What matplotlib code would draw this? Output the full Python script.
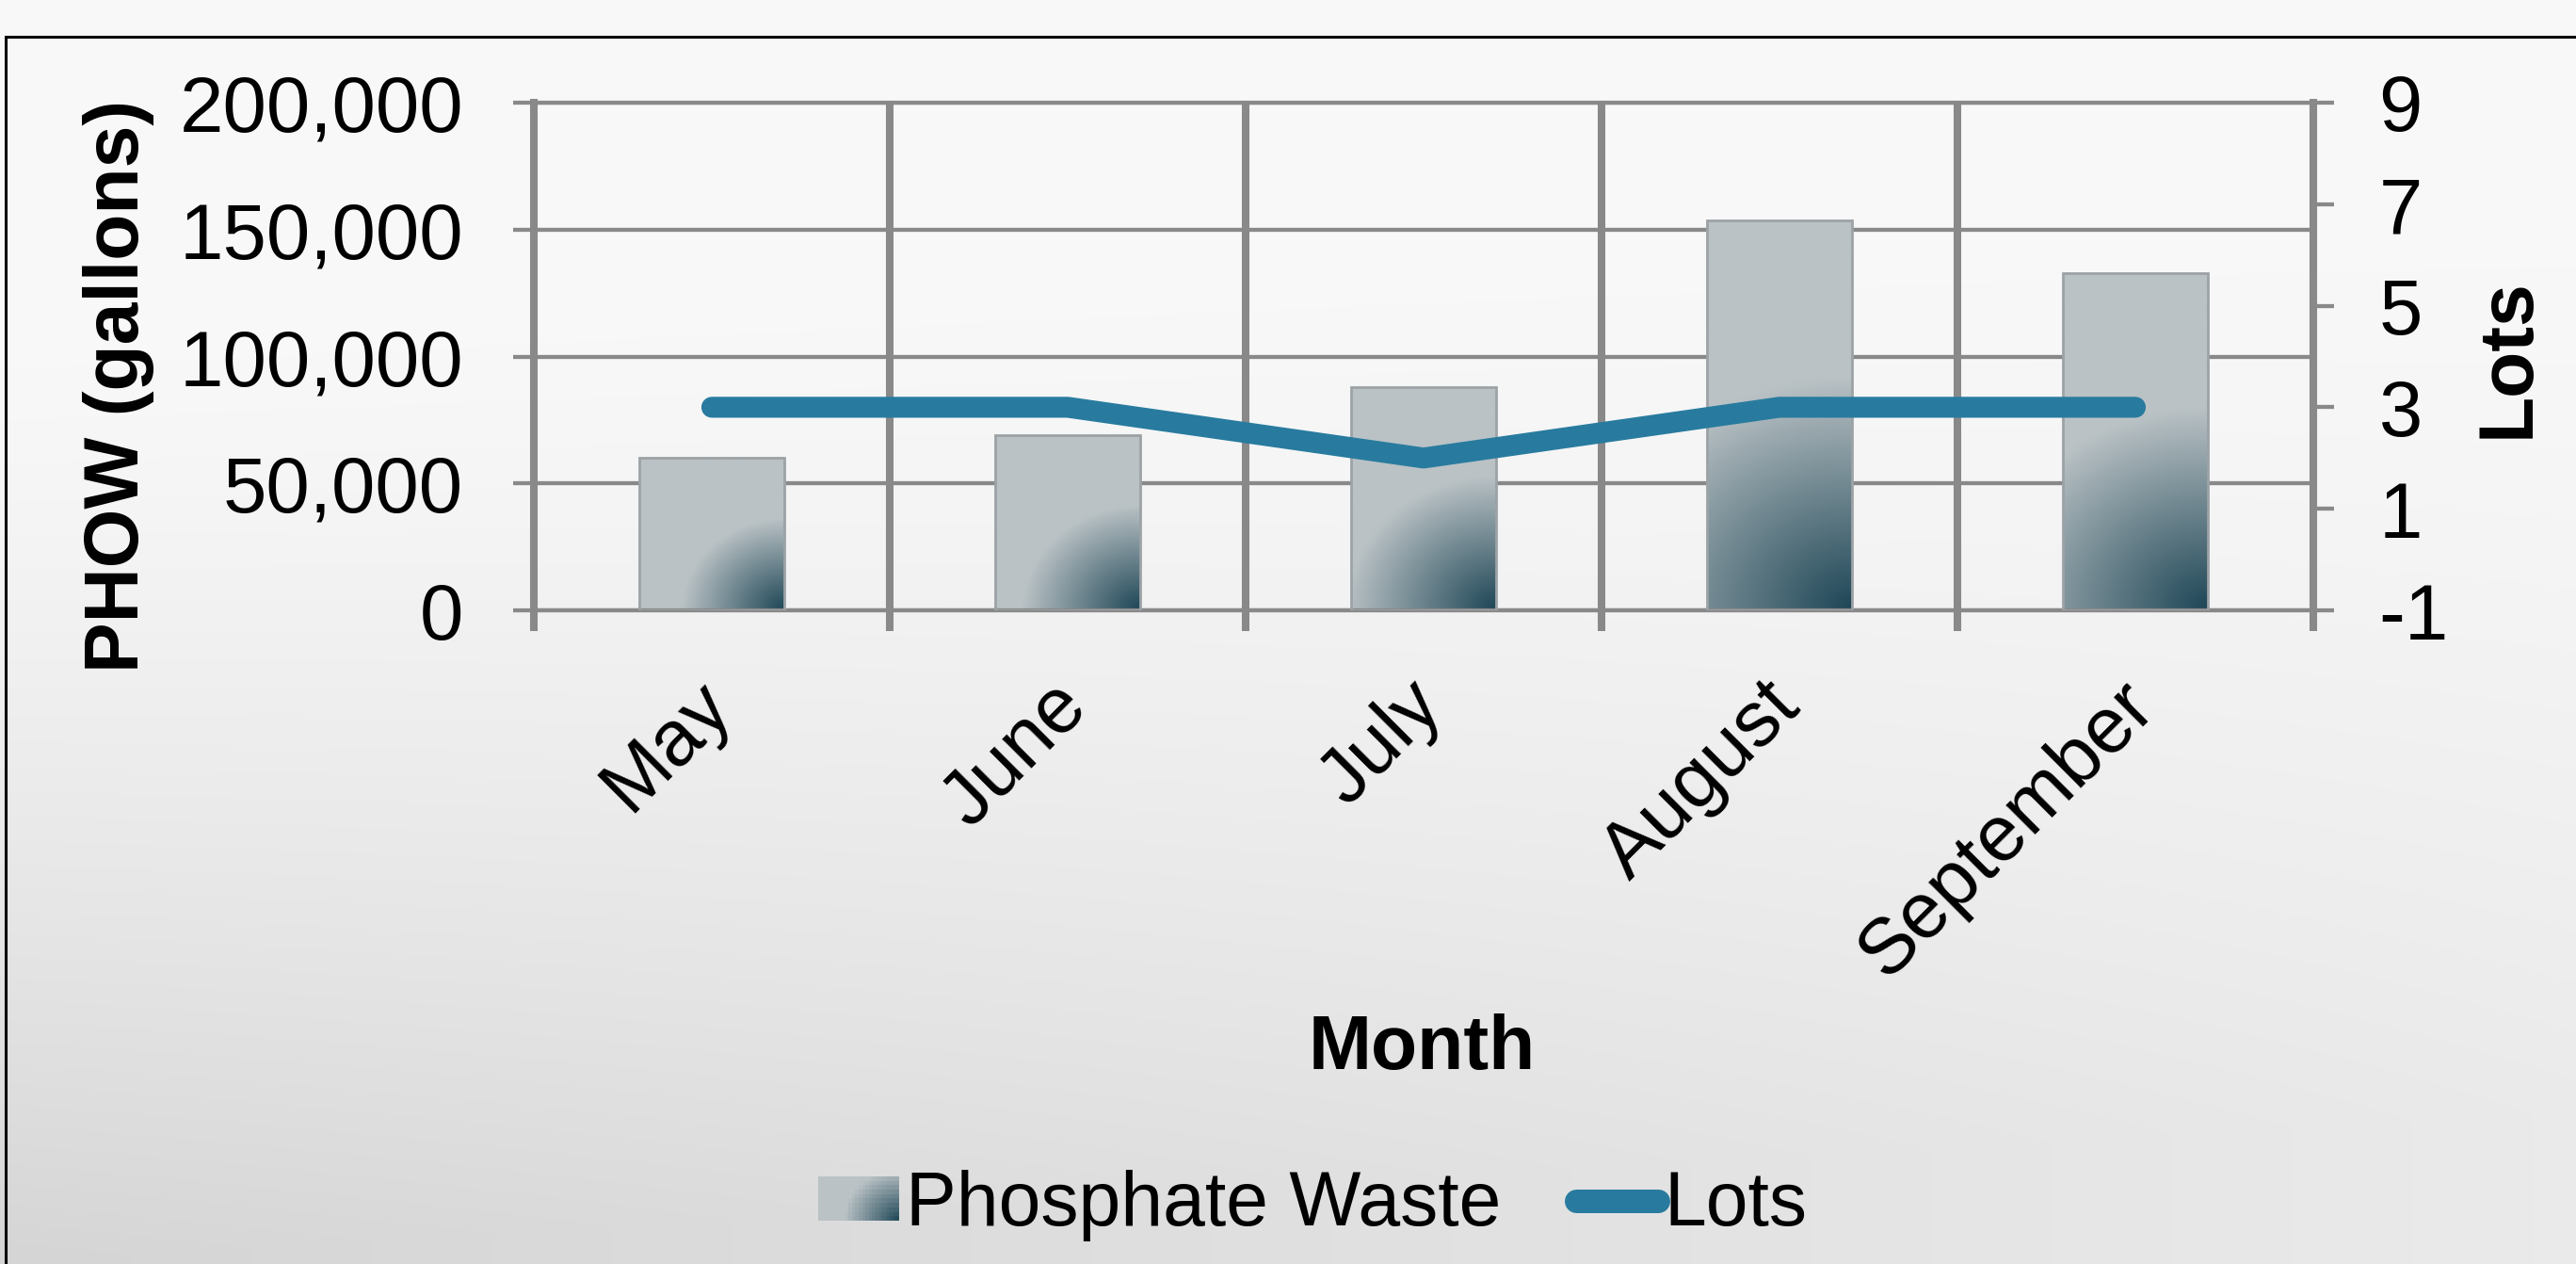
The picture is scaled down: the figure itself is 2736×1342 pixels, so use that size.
"""Phosphate waste volume vs. lots per month (bar + line, twin y axes)."""
import numpy as np
import matplotlib.pyplot as plt
from matplotlib.patches import Rectangle
from matplotlib.lines import Line2D
from matplotlib.legend_handler import HandlerBase
from matplotlib.ticker import FuncFormatter
from matplotlib.transforms import ScaledTranslation


months = ["May", "June", "July", "August", "September"]
waste_gal = [60000, 69000, 88000, 153500, 133000]
lots = [3, 3, 2, 3, 3]

left_ticks = [0, 50000, 100000, 150000, 200000]
right_ticks = [-1, 1, 3, 5, 7, 9]

W, H, DPI = 2736, 1342, 200
LIGHT = np.array([186, 194, 197]) / 255
DARK = np.array([30, 70, 86]) / 255
LINE_C = "#287b9f"
GRID_C = "#898989"
BAR_W = 0.41

plt.rcParams["font.family"] = ["Liberation Sans", "DejaVu Sans"]
plt.rcParams["axes.unicode_minus"] = False


def shade(dx, dy, rx, ry):
    """Light bar colour with a dark radial glow from the bottom-right corner."""
    d = np.clip(np.sqrt((dx / rx) ** 2 + (dy / ry) ** 2), 0, 1)
    return DARK + (LIGHT - DARK) * d[..., None]


class GradientHandler(HandlerBase):
    def create_artists(self, legend, orig_handle, xdescent, ydescent,
                       width, height, fontsize, trans):
        nx, ny = 24, 10
        arts = []
        for i in range(nx):
            for j in range(ny):
                cx = (i + 0.5) / nx
                cy = (j + 0.5) / ny
                c = shade(np.array((1 - cx) * width), np.array(cy * height),
                          1.25 * height, 1.15 * height)
                r = Rectangle((-xdescent + i * width / nx, -ydescent + j * height / ny),
                              width / nx, height / ny, facecolor=c, edgecolor="none",
                              linewidth=0, antialiased=False, transform=trans)
                arts.append(r)
        return arts


fig = plt.figure(figsize=(W / DPI, H / DPI), dpi=DPI)

# soft grey page background
bg = fig.add_axes([0, 0, 1, 1], zorder=-10)
yy, xx = np.mgrid[0:1:300j, 0:1:600j]
t = np.clip((yy - 0.25 + 0.12 * xx) / 0.75, 0, 1) ** 1.4 * (1 - 0.6 * xx)
g = 0.975 - 0.14 * t
bg.imshow(np.dstack([g, g, g]), extent=(0, 1, 0, 1), origin="upper",
          aspect="auto", interpolation="bilinear")
bg.set_axis_off()

fig.add_artist(Rectangle((6 / W, -0.2), 1.5, 1.2 - 39 / H, transform=fig.transFigure,
                         fill=False, edgecolor="black", linewidth=1.1))

ax = fig.add_axes([567 / W, 1 - 648 / H, 1890 / W, 539 / H])
ax.set_facecolor("none")
x = np.arange(len(months))
ax.set_xlim(-0.5, len(months) - 0.5)
ax.set_ylim(0, 200000)

bars = ax.bar(x, waste_gal, width=BAR_W, facecolor="none",
              edgecolor="#9ca2a5", linewidth=1.0, zorder=3)

# gradient fill inside each bar
px_per_x = 1890 / len(months)
px_per_y = 539 / 200000
for xi, val, bar in zip(x, waste_gal, bars):
    w_px = BAR_W * px_per_x
    h_px = val * px_per_y
    u = np.linspace(0, 1, 80)
    v = np.linspace(0, 1, 200)
    uu, vv = np.meshgrid(u, v)
    rgb = shade((1 - uu) * w_px, vv * h_px, 0.68 * h_px, 0.6 * h_px)
    im = ax.imshow(rgb, extent=(xi - BAR_W / 2, xi + BAR_W / 2, 0, val),
                   origin="lower", aspect="auto", interpolation="bilinear", zorder=2.5)
    im.set_clip_path(bar)

ax.set_xlim(-0.5, len(months) - 0.5)
ax.set_ylim(0, 200000)

ax.set_yticks(left_ticks)
ax.yaxis.set_major_formatter(FuncFormatter(lambda v, p: f"{int(v):,}"))
ax.set_xticks(x, months, rotation=45, ha="right", va="top", rotation_mode="default")
ax.set_xticks(np.arange(-0.5, len(months), 1), minor=True)

ax.tick_params(axis="y", direction="out", length=8, width=1.55, color=GRID_C,
               pad=19, labelsize=30)
ax.tick_params(axis="x", which="major", length=0, pad=22, labelsize=30)
ax.tick_params(axis="x", which="minor", direction="out", length=8, width=2.9,
               color=GRID_C)
ax.grid(True, axis="x", which="minor", color=GRID_C, linewidth=2.9)
ax.grid(True, axis="y", which="major", color=GRID_C, linewidth=1.55)
ax.set_axisbelow(True)

# month labels sit a little right of the category centre
shift = ScaledTranslation(36 / DPI, 0, fig.dpi_scale_trans)
for tick in ax.xaxis.get_major_ticks():
    tick.label1.set_transform(tick.label1.get_transform() + shift)

for side in ("left", "right"):
    ax.spines[side].set_color(GRID_C)
    ax.spines[side].set_linewidth(2.9)
for side in ("top", "bottom"):
    ax.spines[side].set_color(GRID_C)
    ax.spines[side].set_linewidth(1.55)

ax2 = ax.twinx()
ax2.plot(x, lots, color=LINE_C, linewidth=8, solid_capstyle="round",
         solid_joinstyle="round", zorder=4)
ax2.set_ylim(-1, 9)
ax2.set_yticks(right_ticks)
ax2.tick_params(axis="y", direction="out", length=8, width=1.55, color=GRID_C,
                pad=17, labelsize=30)
for s in ax2.spines.values():
    s.set_visible(False)

fig.text(126 / W, 1 - 410 / H, "PHOW (gallons)", rotation=90, ha="center",
         va="center", fontsize=29, fontweight="bold")
fig.text(2665 / W, 1 - 380 / H, "Lots", rotation=90, ha="center", va="center",
         fontsize=29, fontweight="bold")
fig.text(1510 / W, 1 - 1135 / H, "Month", ha="center", va="baseline",
         fontsize=29, fontweight="bold")

bar_proxy = Rectangle((0, 0), 1, 1)
line_proxy = Line2D([], [], color=LINE_C, linewidth=9, solid_capstyle="round")
fig.legend([bar_proxy, line_proxy], ["Phosphate Waste", "Lots"],
           handler_map={bar_proxy: GradientHandler()},
           loc="center", bbox_to_anchor=(1394 / W, 1 - 1280 / H), ncol=2,
           frameon=False, fontsize=29, handlelength=1.07, handleheight=0.52,
           handletextpad=0.08, columnspacing=1.0)

fig.savefig("out.png", dpi=DPI)
plt.close(fig)
